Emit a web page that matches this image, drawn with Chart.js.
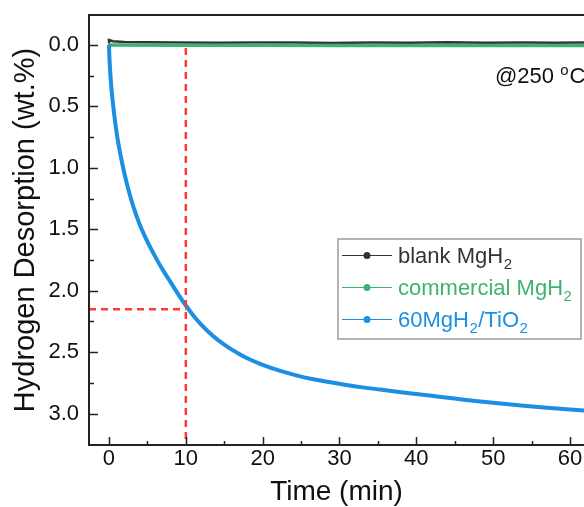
<!DOCTYPE html>
<html>
<head>
<meta charset="utf-8">
<script src="https://cdn.jsdelivr.net/npm/chart.js@4.4.1/dist/chart.umd.min.js"></script>
<style>
  html, body { margin: 0; padding: 0; background: #fff; }
  #wrap { width: 584px; height: 507px; position: relative; }
</style>
</head>
<body>
<div id="wrap"><canvas id="c" width="584" height="507"></canvas></div>
<script>
// ---- data ----
const seriesLabels = ['blank MgH\u2082', 'commercial MgH\u2082', '60MgH\u2082/TiO\u2082'];
const blankT = [-0.1, 0, 0.5, 2, 5, 9, 14, 19, 24, 29, 34, 39, 44, 49, 54, 58, 62];
const blankV = [-0.02, -0.04, -0.03, -0.025, -0.022, -0.02, -0.018, -0.021, -0.02, -0.017, -0.02, -0.019, -0.022, -0.018, -0.02, -0.019, -0.02];
const commT = [-0.1, 0, 10, 20, 30, 40, 50, 62];
const commV = [0.0, 0.0, 0.003, 0.003, 0.004, 0.004, 0.004, 0.004];
const tio2T = [0, 0.05, 0.15, 0.3, 0.56, 0.8, 1.08, 1.5, 1.95, 2.5, 3.17, 4, 5, 6, 7, 8, 9, 10, 11, 12, 13, 14, 15, 16, 17, 18, 20, 22.3, 24.5, 26.6, 28.8, 30.9, 33, 35.3, 38, 40, 42.7, 45, 48, 51.3, 54, 57, 60, 62];
const tio2V = [0, 0.09, 0.21, 0.34, 0.50, 0.625, 0.75, 0.895, 1.03, 1.17, 1.315, 1.46, 1.60, 1.72, 1.83, 1.928, 2.027, 2.12, 2.203, 2.275, 2.337, 2.391, 2.438, 2.479, 2.516, 2.549, 2.603, 2.652, 2.69, 2.72, 2.745, 2.767, 2.786, 2.804, 2.825, 2.84, 2.86, 2.877, 2.899, 2.92, 2.935, 2.952, 2.966, 2.976];
const markTime = 10;      // min
const markValue = 2.15;   // wt.%
const xTicks = [0, 10, 20, 30, 40, 50, 60];
const xMinor = [5, 15, 25, 35, 45, 55];
const yTicks = [0, 0.5, 1.0, 1.5, 2.0, 2.5, 3.0];
const yMinor = [0.25, 0.75, 1.25, 1.75, 2.25, 2.75];
const xRange = [-2.6, 61.82];
const yRange = [-0.244, 3.255];
const annotation = ['@250 ', 'o', 'C'];

// ---- styles ----
const FONT = '"Liberation Sans", Arial, Helvetica, sans-serif';
Chart.defaults.font.family = FONT;
const colors = ['#333333', '#3cb371', '#1a8fe3'];
const red = '#ff3838';

const zip = (t, v) => t.map((x, i) => ({x: x, y: v[i]}));

const frame = {
  id: 'frame',
  afterDatasetsDraw(chart) {
    const {ctx, chartArea: a, scales: {x, y}} = chart;
    ctx.save();
    ctx.strokeStyle = '#222';
    ctx.lineWidth = 2;
    ctx.beginPath();
    ctx.moveTo(a.right + 2, a.top); ctx.lineTo(a.left, a.top);
    ctx.lineTo(a.left, a.bottom); ctx.lineTo(a.right + 2, a.bottom);
    ctx.stroke();
    ctx.lineWidth = 1.5;
    ctx.beginPath();
    xTicks.forEach(v => { const p = Math.round(x.getPixelForValue(v)) + 0.5; ctx.moveTo(p, a.bottom); ctx.lineTo(p, a.bottom - 8); });
    xMinor.forEach(v => { const p = Math.round(x.getPixelForValue(v)) + 0.5; ctx.moveTo(p, a.bottom); ctx.lineTo(p, a.bottom - 4); });
    yTicks.forEach(v => { const p = Math.round(y.getPixelForValue(v)) + 0.5; ctx.moveTo(a.left, p); ctx.lineTo(a.left + 9, p); });
    yMinor.forEach(v => { const p = Math.round(y.getPixelForValue(v)) + 0.5; ctx.moveTo(a.left, p); ctx.lineTo(a.left + 5, p); });
    ctx.stroke();

    // annotation text
    ctx.fillStyle = '#111';
    ctx.textBaseline = 'alphabetic';
    ctx.textAlign = 'left';
    let tx = 495, ty = 83;
    ctx.font = '22px ' + FONT;
    ctx.fillText(annotation[0], tx, ty); tx += ctx.measureText(annotation[0]).width;
    ctx.font = '15px ' + FONT;
    ctx.fillText(annotation[1], tx, ty - 8); tx += ctx.measureText(annotation[1]).width + 1;
    ctx.font = '22px ' + FONT;
    ctx.fillText(annotation[2], tx, ty);

    // legend
    const bx = 338, by = 239, bw = 243, bh = 100;
    ctx.fillStyle = '#fff';
    ctx.fillRect(bx, by, bw, bh);
    ctx.strokeStyle = '#9a9a9a';
    ctx.lineWidth = 1.5;
    ctx.strokeRect(bx, by, bw, bh);
    const rows = [255, 287, 319];
    chart.data.datasets.slice(0, 3).forEach((ds, i) => {
      const ry = rows[i];
      ctx.strokeStyle = ds.borderColor; ctx.lineWidth = 1;
      ctx.beginPath(); ctx.moveTo(342, ry + 0.5); ctx.lineTo(392, ry + 0.5); ctx.stroke();
      ctx.fillStyle = ds.borderColor;
      ctx.beginPath(); ctx.arc(367, ry + 0.5, 3.5, 0, Math.PI * 2); ctx.fill();
      // text with subscripts
      const parts = ds.label.split(/(\u2082)/).filter(s => s.length);
      let px = 398;
      parts.forEach(p => {
        if (p === '\u2082') {
          ctx.font = '15px ' + FONT;
          ctx.fillText('2', px + 0.5, ry + 14);
          px += ctx.measureText('2').width + 1;
        } else {
          ctx.font = '22px ' + FONT;
          ctx.fillText(p, px, ry + 8);
          px += ctx.measureText(p).width;
        }
      });
    });
    ctx.restore();
  }
};

new Chart(document.getElementById('c'), {
  type: 'line',
  data: {
    datasets: [
      { label: seriesLabels[0], data: zip(blankT, blankV), borderColor: colors[0], borderWidth: 2.5, pointRadius: 0, order: 3 },
      { label: seriesLabels[1], data: zip(commT, commV), borderColor: colors[1], borderWidth: 3.5, pointRadius: 0, order: 2 },
      { label: seriesLabels[2], data: zip(tio2T, tio2V), borderColor: colors[2], borderWidth: 4, pointRadius: 0, cubicInterpolationMode: 'monotone', order: 1 },
      { label: 'guide-v', data: [{x: markTime, y: 0.025}, {x: markTime, y: yRange[1]}], borderColor: red, borderWidth: 2.5, borderDash: [7, 5], pointRadius: 0, order: 0 },
      { label: 'guide-h', data: [{x: xRange[0], y: markValue}, {x: markTime, y: markValue}], borderColor: red, borderWidth: 2.5, borderDash: [7, 5], pointRadius: 0, order: 0 }
    ]
  },
  options: {
    responsive: false,
    animation: false,
    devicePixelRatio: 1,
    layout: { padding: { top: 15, right: 0, left: 0, bottom: 0 } },
    plugins: { legend: { display: false }, tooltip: { enabled: false } },
    scales: {
      x: {
        type: 'linear', min: xRange[0], max: xRange[1],
        grid: { display: false, drawTicks: false }, border: { display: false },
        afterBuildTicks: s => { s.ticks = xTicks.map(v => ({value: v})); },
        afterFit: s => { s.height = 62; s.paddingLeft = 0; s.paddingRight = 0; },
        ticks: { font: { size: 22 }, color: '#111', padding: 1, callback: v => String(v) },
        title: { display: true, text: 'Time (min)', font: { size: 28, lineHeight: 1 }, color: '#111', padding: { top: 0, bottom: 1 } }
      },
      y: {
        type: 'linear', reverse: true, min: yRange[0], max: yRange[1],
        grid: { display: false, drawTicks: false }, border: { display: false },
        afterBuildTicks: s => { s.ticks = yTicks.map(v => ({value: v})); },
        afterFit: s => { s.width = 89; s.paddingTop = 0; s.paddingBottom = 0; },
        ticks: { font: { size: 22 }, color: '#111', padding: 10, callback: v => Number(v).toFixed(1) },
        title: { display: true, text: 'Hydrogen Desorption (wt.%)', font: { size: 29, lineHeight: 1 }, color: '#111', padding: { top: 11, bottom: 0 } }
      }
    }
  },
  plugins: [frame]
});
</script>
</body>
</html>
